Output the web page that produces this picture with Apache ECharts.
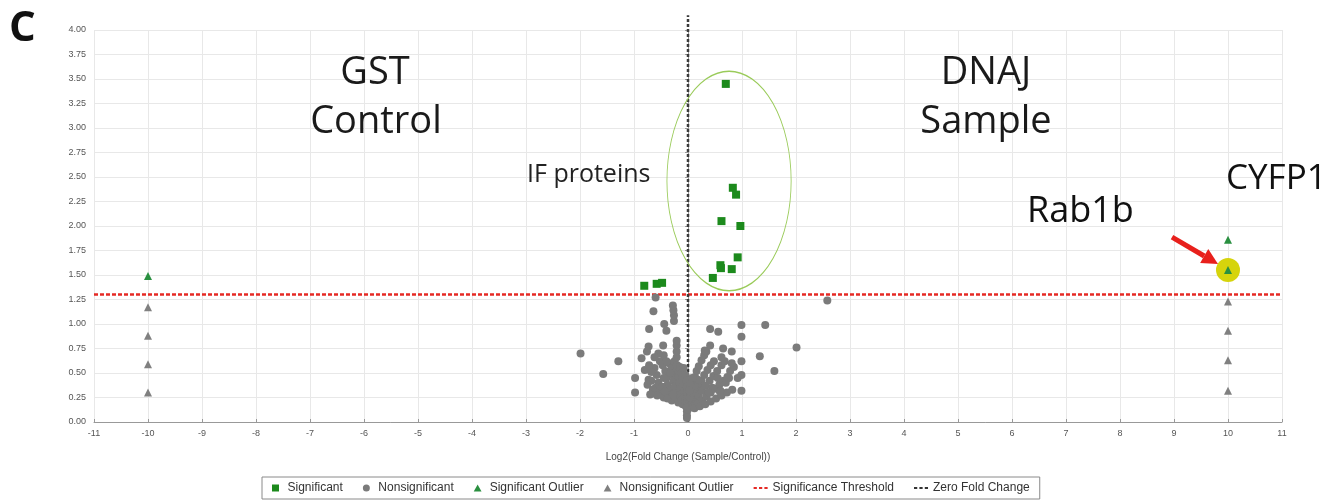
<!DOCTYPE html>
<html>
<head>
<meta charset="utf-8">
<script src="https://cdn.jsdelivr.net/npm/echarts@6/dist/echarts.min.js"></script>
<style>
  html, body { margin: 0; padding: 0; background: #fff; }
  #chart { width: 1335px; height: 504px; }
</style>
</head>
<body>
<div id="chart"></div>
<script>
// significant proteins (green squares) [log2 fold change, -log10 p]
const sigPoints = [
  [0.70, 3.45], [0.83, 2.39], [0.89, 2.32], [0.62, 2.05], [0.97, 2.00],
  [0.92, 1.68], [0.60, 1.60], [0.61, 1.57], [0.81, 1.56], [0.46, 1.47],
  [-0.81, 1.39], [-0.58, 1.41], [-0.48, 1.42]
]

// nonsignificant proteins (grey circles)
const nonsigPoints = [
  // outer left
  [-0.60, 1.27], [-0.64, 1.13], [-0.44, 1.00], [-0.40, 0.93], [-0.72, 0.95],
  [-0.46, 0.78], [-0.73, 0.77], [-0.76, 0.72], [-0.86, 0.65], [-1.29, 0.62],
  [-0.80, 0.53], [-0.98, 0.45], [-0.73, 0.43], [-0.98, 0.30], [-0.58, 0.28],
  [-1.99, 0.70], [-1.57, 0.49],
  // columns left of zero
  [-0.21, 0.66], [-0.21, 0.72], [-0.21, 0.78], [-0.21, 0.83],
  [-0.26, 1.03], [-0.26, 1.09], [-0.27, 1.14], [-0.28, 1.19],
  // dense part, left
  [-0.62, 0.55], [-0.58, 0.48], [-0.55, 0.40], [-0.60, 0.35], [-0.50, 0.30],
  [-0.45, 0.25], [-0.52, 0.62], [-0.47, 0.58], [-0.42, 0.52], [-0.40, 0.45],
  [-0.38, 0.38], [-0.35, 0.32], [-0.33, 0.27], [-0.30, 0.22], [-0.35, 0.60],
  [-0.30, 0.55], [-0.28, 0.48], [-0.27, 0.42], [-0.25, 0.36], [-0.22, 0.30],
  [-0.20, 0.25], [-0.18, 0.20], [-0.22, 0.52], [-0.18, 0.46], [-0.16, 0.40],
  [-0.15, 0.34], [-0.13, 0.28], [-0.12, 0.23], [-0.10, 0.18], [-0.12, 0.50],
  [-0.10, 0.44], [-0.08, 0.38], [-0.07, 0.32], [-0.06, 0.26], [-0.05, 0.21],
  [-0.04, 0.16], [-0.05, 0.48], [-0.03, 0.42], [-0.02, 0.36], [-0.02, 0.30],
  [-0.01, 0.25], [-0.02, 0.20], [-0.68, 0.42], [-0.65, 0.33], [-0.70, 0.28],
  [-0.45, 0.68], [-0.40, 0.62], [-0.55, 0.70], [-0.62, 0.66], [-0.48, 0.36],
  [-0.43, 0.31], [-0.57, 0.27], [-0.38, 0.24], [-0.28, 0.28], [-0.45, 0.45],
  [-0.33, 0.50], [-0.25, 0.62], [-0.20, 0.58], [-0.15, 0.56], [-0.08, 0.55],
  [-0.68, 0.51], [-0.75, 0.38], [-0.72, 0.58],
  // zero column
  [-0.02, 0.15], [-0.02, 0.11], [-0.02, 0.07], [-0.02, 0.04], [0.00, 0.18], [0.00, 0.13],
  // dense part, right
  [0.03, 0.22], [0.05, 0.28], [0.08, 0.34], [0.10, 0.40], [0.13, 0.46],
  [0.16, 0.52], [0.20, 0.57], [0.25, 0.63], [0.30, 0.68], [0.34, 0.72],
  [0.06, 0.20], [0.10, 0.25], [0.15, 0.30], [0.20, 0.36], [0.25, 0.42],
  [0.30, 0.48], [0.36, 0.53], [0.42, 0.58], [0.48, 0.62],
  [0.08, 0.18], [0.14, 0.22], [0.20, 0.27], [0.26, 0.32], [0.33, 0.37],
  [0.40, 0.42], [0.47, 0.47], [0.54, 0.52], [0.62, 0.58], [0.68, 0.62],
  [0.10, 0.16], [0.18, 0.19], [0.26, 0.22], [0.34, 0.26], [0.42, 0.30],
  [0.50, 0.34], [0.58, 0.38], [0.66, 0.42], [0.73, 0.46],
  [0.12, 0.14], [0.22, 0.16], [0.32, 0.18], [0.42, 0.21], [0.52, 0.24],
  [0.62, 0.27], [0.72, 0.30], [0.82, 0.33],
  [0.04, 0.25], [0.07, 0.30], [0.12, 0.37], [0.18, 0.43], [0.08, 0.45],
  [0.04, 0.38], [0.03, 0.32], [0.45, 0.35], [0.38, 0.30], [0.55, 0.45],
  [0.60, 0.32], [0.70, 0.40], [0.78, 0.52], [0.85, 0.56], [0.92, 0.45],
  // outer right
  [0.41, 0.95], [0.56, 0.92], [0.99, 0.99], [0.99, 0.87], [1.43, 0.99],
  [1.33, 0.67], [0.41, 0.78], [0.31, 0.73], [0.65, 0.75], [0.81, 0.72],
  [0.62, 0.66], [0.81, 0.60], [0.99, 0.62], [0.99, 0.48], [0.76, 0.45],
  [0.59, 0.31], [0.99, 0.32], [2.01, 0.76], [1.60, 0.52], [2.58, 1.24]
]

// outliers (triangles)
const sigOutliers = [[-10, 1.49], [10, 1.86], [10, 1.55]]
const nonsigOutliers = [
  [-10, 1.17], [-10, 0.88], [-10, 0.59], [-10, 0.30],
  [10, 1.23], [10, 0.93], [10, 0.63], [10, 0.32]
]

// reference lines
const thresholdLine = [[-11, 1.3], [11, 1.3]]
const zeroLine = [[0, 0], [0, 4.15]]

// highlighted points
const rab1b = [10, 1.55]
const ifCenter = [0.76, 2.46]

let chart = echarts.init(document.getElementById("chart"))
let font = "Liberation Sans"

// legend icons
let sqIcon = "path://M0 0H10V10H0Z"
let triIcon = "path://M5 0L10 9H0Z"
let dashIcon = "path://M0 0H3V2H0Z M5 0H8V2H5Z M10 0H13V2H10Z"

let option = {
  animation: false,
  textStyle: { fontFamily: font },
  grid: { left: 94, right: 53, top: 30, bottom: 82 },
  legend: {
    left: 262,
    top: 477,
    padding: [5, 10],
    borderColor: "#8a8a8a",
    borderWidth: 1,
    itemGap: 20,
    itemWidth: 14,
    itemHeight: 7,
    symbolKeepAspect: true,
    textStyle: { fontSize: 12, color: "#333", fontFamily: font },
    data: [
      { name: "Significant", icon: sqIcon },
      { name: "Nonsignificant", icon: "circle" },
      { name: "Significant Outlier", icon: triIcon },
      { name: "Nonsignificant Outlier", icon: triIcon },
      { name: "Significance Threshold", icon: dashIcon },
      { name: "Zero Fold Change", icon: dashIcon }
    ]
  },
  xAxis: {
    type: "value",
    min: -11,
    max: 11,
    interval: 1,
    name: "Log2(Fold Change (Sample/Control))",
    nameLocation: "middle",
    nameGap: 30,
    nameTextStyle: { fontSize: 10, color: "#444" },
    axisLine: { onZero: false, lineStyle: { color: "#999" } },
    axisTick: { show: true, length: 3, inside: true, lineStyle: { color: "#999" } },
    axisLabel: { fontSize: 9, color: "#555", margin: 7 },
    splitLine: { lineStyle: { color: "#e8e8e8" } }
  },
  yAxis: {
    type: "value",
    min: 0,
    max: 4,
    interval: 0.25,
    axisLine: { show: true, lineStyle: { color: "#999" } },
    axisTick: { show: true, length: 3, lineStyle: { color: "#999" } },
    axisLabel: { fontSize: 9, color: "#555", margin: 8, formatter: v => v.toFixed(2) },
    splitLine: { lineStyle: { color: "#e8e8e8" } }
  },
  series: [
    {
      name: "Significant",
      type: "scatter",
      symbol: "rect",
      symbolSize: 8,
      itemStyle: { color: "#1c8a1c", opacity: 1 },
      data: sigPoints,
      z: 4
    },
    {
      name: "Nonsignificant",
      type: "scatter",
      symbol: "circle",
      symbolSize: 8,
      itemStyle: { color: "#7b7b7b", opacity: 1 },
      data: nonsigPoints,
      z: 3
    },
    {
      name: "Significant Outlier",
      type: "scatter",
      symbol: "triangle",
      symbolSize: 8,
      itemStyle: { color: "#2a9040", opacity: 1 },
      data: sigOutliers,
      z: 4
    },
    {
      name: "Nonsignificant Outlier",
      type: "scatter",
      symbol: "triangle",
      symbolSize: 8,
      itemStyle: { color: "#808080", opacity: 1 },
      data: nonsigOutliers,
      z: 4
    },
    {
      name: "Significance Threshold",
      type: "line",
      symbol: "none",
      silent: true,
      color: "#e52a25",
      itemStyle: { color: "#e52a25" },
      lineStyle: { color: "#e52a25", width: 2.5, type: [4, 2] },
      data: thresholdLine,
      z: 2
    },
    {
      name: "Zero Fold Change",
      type: "line",
      symbol: "none",
      silent: true,
      clip: false,
      color: "#333",
      itemStyle: { color: "#333" },
      lineStyle: { color: "#3a3a3a", width: 2.5, type: [3, 2] },
      data: zeroLine,
      z: 2
    }
  ]
}
chart.setOption(option)

// annotations placed from the axis scale
let c = chart.convertToPixel({ gridIndex: 0 }, rab1b)
let ic = chart.convertToPixel({ gridIndex: 0 }, ifCenter)
let ifEdge = chart.convertToPixel({ gridIndex: 0 }, [ifCenter[0] + 1.15, ifCenter[1] + 1.12])
let rx = ifEdge[0] - ic[0]
let ry = ic[1] - ifEdge[1]

let bigText = (txt, x, y, size) => ({
  type: "text",
  x: x,
  y: y,
  style: { text: txt, font: size + "px 'Open Sans'", fill: "#1a1a1a", textAlign: "center" },
  z: 10
})

// arrow pointing at Rab1b
let tail = [c[0] - 56, c[1] - 33]
let tip = [c[0] - 10, c[1] - 6]
let ang = Math.atan2(tip[1] - tail[1], tip[0] - tail[0])
let hl = 16, hw = 8
let base = [tip[0] - hl * Math.cos(ang), tip[1] - hl * Math.sin(ang)]
let nx = -Math.sin(ang), ny = Math.cos(ang)

chart.setOption({
  graphic: [
    {
      type: "text", left: 9, top: 8,
      style: { text: "C", font: "bold 42px 'Open Sans'", fill: "#111" }
    },
    bigText("GST", 375, 54, 38),
    bigText("Control", 376, 103, 38),
    bigText("DNAJ", 986, 54, 38),
    bigText("Sample", 986, 103, 38),
    {
      type: "text", x: 527, y: 162,
      style: { text: "IF proteins", font: "25px 'Open Sans'", fill: "#222" }, z: 10
    },
    {
      type: "text", x: 1027, y: 194,
      style: { text: "Rab1b", font: "36px 'Open Sans'", fill: "#111" }, z: 10
    },
    {
      type: "text", x: 1226, y: 162,
      style: { text: "CYFP1", font: "35px 'Open Sans'", fill: "#111" }, z: 10
    },
    {
      type: "circle",
      x: ic[0], y: ic[1],
      shape: { cx: 0, cy: 0, r: ry },
      scaleX: rx / ry,
      style: { fill: "none", stroke: "#9acb5a", lineWidth: 1.5, strokeNoScale: true },
      z: 5
    },
    {
      type: "circle",
      shape: { cx: c[0], cy: c[1], r: 12 },
      style: { fill: "#d6d40c" },
      z: 1
    },
    {
      type: "line",
      shape: { x1: tail[0], y1: tail[1], x2: base[0], y2: base[1] },
      style: { stroke: "#e8201c", lineWidth: 5 },
      z: 10
    },
    {
      type: "polygon",
      shape: { points: [tip, [base[0] + nx * hw, base[1] + ny * hw], [base[0] - nx * hw, base[1] - ny * hw]] },
      style: { fill: "#e8201c" },
      z: 10
    }
  ]
})
</script>
</body>
</html>
